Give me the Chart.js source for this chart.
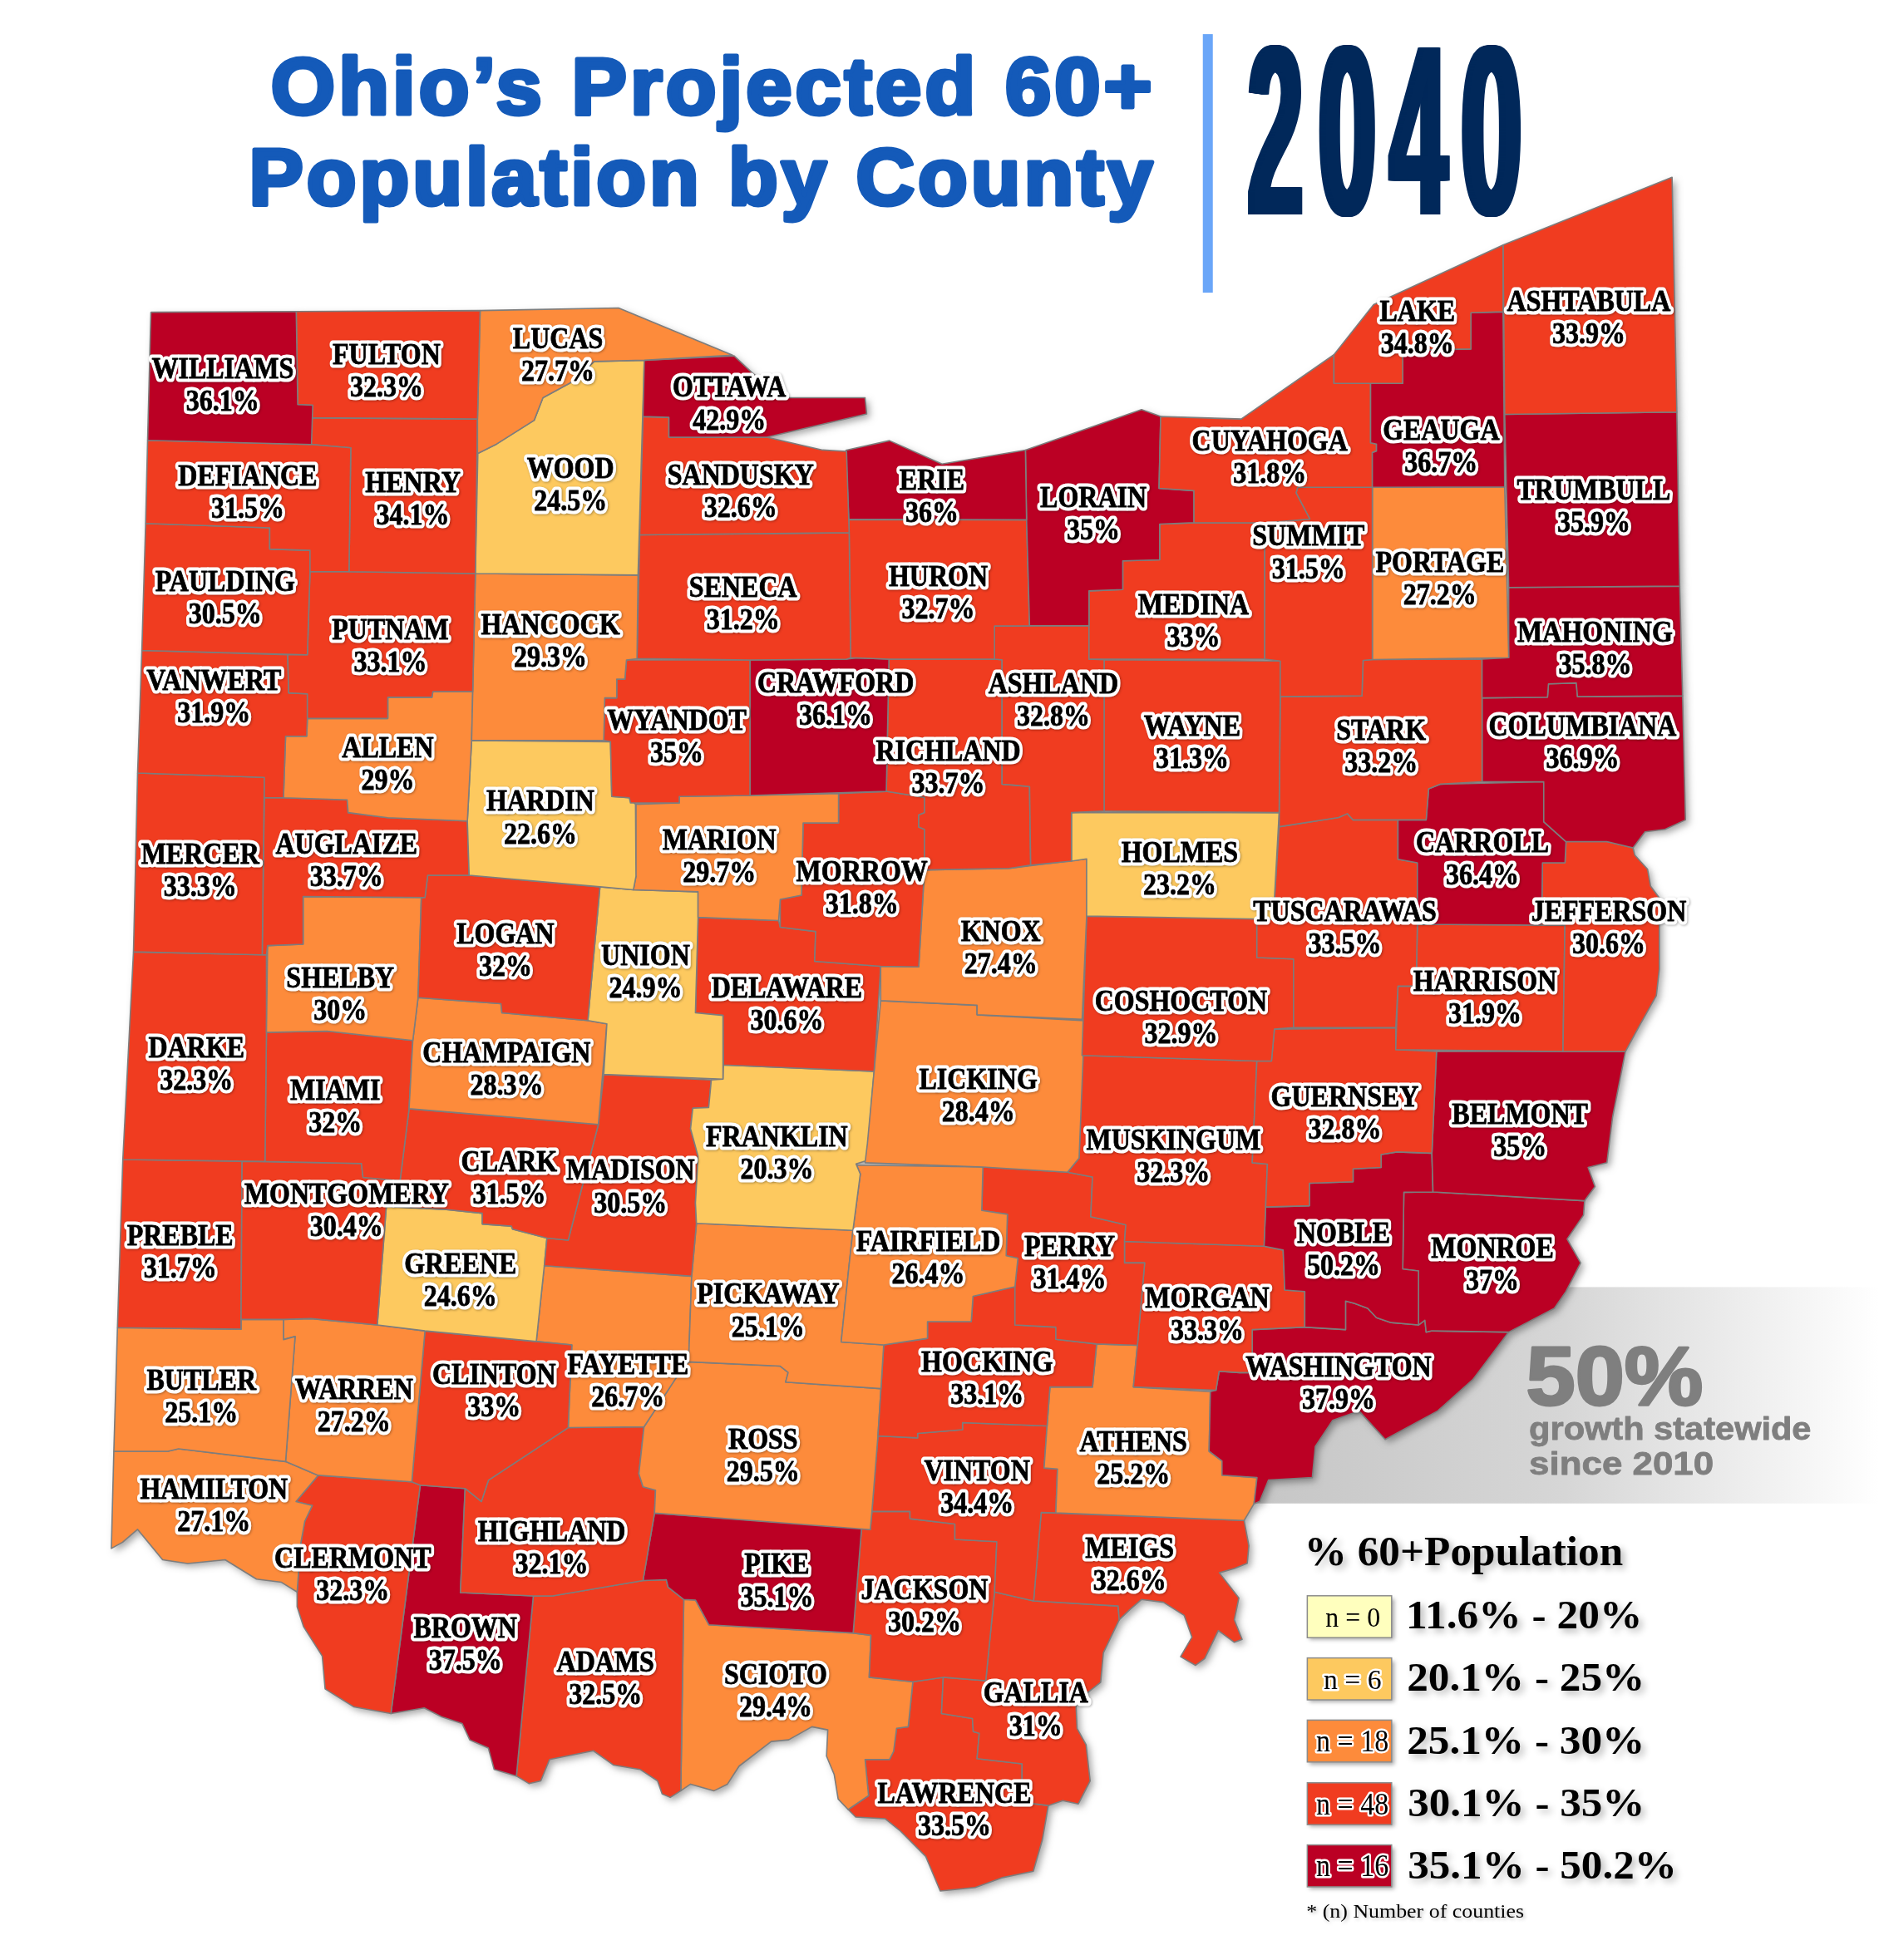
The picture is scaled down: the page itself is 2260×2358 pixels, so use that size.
<!DOCTYPE html>
<html>
<head>
<meta charset="utf-8">
<title>Ohio's Projected 60+ Population by County</title>
<script src="https://cdn.jsdelivr.net/npm/chart.js@4"></script>
<style>
  html, body { margin: 0; padding: 0; background: #fff; }
  canvas { display: block; }
</style>
</head>
<body>
<canvas id="map" width="2260" height="2358"></canvas>
<script>
// ── Data ────────────────────────────────────────────────────────────────────
// All four county arrays run in the same order.
const countyNames = [
  'WILLIAMS','FULTON','LUCAS','OTTAWA','LAKE','ASHTABULA','GEAUGA','CUYAHOGA','TRUMBULL','DEFIANCE','HENRY',
  'WOOD','SANDUSKY','ERIE','LORAIN','SUMMIT','PORTAGE','PAULDING','PUTNAM','HANCOCK','SENECA','HURON',
  'MEDINA','MAHONING','VANWERT','ALLEN','WYANDOT','CRAWFORD','ASHLAND','RICHLAND','WAYNE','STARK','COLUMBIANA',
  'HARDIN','MARION','MERCER','AUGLAIZE','MORROW','HOLMES','CARROLL','TUSCARAWAS','JEFFERSON','LOGAN','UNION',
  'KNOX','SHELBY','DELAWARE','COSHOCTON','HARRISON','DARKE','CHAMPAIGN','LICKING','MIAMI','GUERNSEY','BELMONT',
  'CLARK','FRANKLIN','MUSKINGUM','MADISON','MONTGOMERY','NOBLE','MONROE','PREBLE','GREENE','FAIRFIELD','PERRY',
  'PICKAWAY','MORGAN','BUTLER','WARREN','CLINTON','FAYETTE','HOCKING','WASHINGTON','ROSS','ATHENS','VINTON',
  'HAMILTON','CLERMONT','HIGHLAND','PIKE','JACKSON','MEIGS','BROWN','ADAMS','SCIOTO','GALLIA','LAWRENCE'
];
const countyValues = [
  36.1,32.3,27.7,42.9,34.8,33.9,36.7,31.8,35.9,31.5,34.1,
  24.5,32.6,36,35,31.5,27.2,30.5,33.1,29.3,31.2,32.7,
  33,35.8,31.9,29,35,36.1,32.8,33.7,31.3,33.2,36.9,
  22.6,29.7,33.3,33.7,31.8,23.2,36.4,33.5,30.6,32,24.9,
  27.4,30,30.6,32.9,31.9,32.3,28.3,28.4,32,32.8,35,
  31.5,20.3,32.3,30.5,30.4,50.2,37,31.7,24.6,26.4,31.4,
  25.1,33.3,25.1,27.2,33,26.7,33.1,37.9,29.5,25.2,34.4,
  27.1,32.3,32.1,35.1,30.2,32.6,37.5,32.5,29.4,31,33.5
];
// Printed as 35% but mapped in the top class, so their real value rounds down to 35.
const roundedDown = ['LORAIN', 'BELMONT'];
// Where each county's name sits, in map units.
const labelSpots = [
  [178,294],[309,283],[446,270],[583,309],[1133,248],[1270,240],[1152,343],[1015,352],[1274,391],[198,380],[330,385],
  [456,374],[592,379],[745,383],[874,397],[1046,428],[1151,449],[180,464],[312,503],[440,499],[594,469],[750,460],
  [954,483],[1275,505],[171,543],[310,597],[541,575],[668,545],[842,546],[758,600],[953,580],[1104,583],[1265,580],
  [432,640],[575,671],[160,682],[277,674],[689,696],[943,681],[1185,673],[1075,728],[1286,728],[404,746],[516,763],
  [800,744],[272,781],[629,789],[944,800],[1187,784],[157,837],[405,841],[782,862],[268,871],[1075,876],[1215,890],
  [407,928],[621,908],[938,911],[504,935],[277,954],[1074,985],[1193,997],[144,987],[368,1010],[742,992],[855,996],
  [614,1034],[965,1037],[161,1103],[283,1110],[395,1098],[502,1090],[789,1088],[1070,1092],[610,1150],[906,1152],[781,1175],
  [171,1190],[282,1245],[441,1224],[621,1250],[739,1270],[903,1237],[372,1301],[484,1328],[620,1338],[828,1353],[763,1433]
];
// County outlines in map units (x right, y down).
const countyShapes = [
  [[120.6,249.6],[236.8,249],[238,323.5],[250,324],[249,355.4],[118,352]], // Williams
  [[236.8,249],[383.8,248.3],[381.7,335],[248.6,334],[250,324],[238,323.5]], // Fulton
  [[383.8,248.3],[494.4,246.2],[585.5,284],[515,288],[475,289],[456,306],[434,318],[427,336],[397,355],[382,362.5],[381.7,335]], // Lucas
  [[515,288],[586.8,284.5],[601,297.8],[625,318],[691.5,318],[692.8,331],[613,349.6],[534.7,349.6],[534.7,333.7],[514,333]], // Ottawa
  [[1066.3,283.6],[1098,243.6],[1201.5,195.9],[1201.5,249.3],[1175.8,250],[1175.8,279],[1121.3,280],[1121.3,306.5],[1066.3,306.5]], // Lake
  [[1201.5,195.9],[1336.6,141.7],[1340.4,329.4],[1202.8,331.3]], // Ashtabula
  [[1095.6,306.5],[1121.3,306.5],[1121.3,280],[1175.8,279],[1175.8,250],[1201.5,249.3],[1202.8,389.3],[1097,389.6],[1097,361.8],[1100.3,360.6],[1100.3,355],[1095.6,354]], // Geauga
  [[927.8,333],[992.2,335],[1066.3,283.6],[1066.3,306.5],[1095.6,306.5],[1095.6,354],[1100.3,355],[1100.3,360.6],[1097,361.8],[1097,389.6],[1037.4,389.6],[1036,394],[1047,415],[1011,418],[954.4,417.9],[954.4,392.3],[926.5,390.4]], // Cuyahoga
  [[1202.8,331.3],[1340.4,329.4],[1342.7,468.6],[1206,469.7]], // Trumbull
  [[118,352],[249,355.4],[280.4,358],[279,457],[247.8,457],[247.8,440],[215.6,439],[215.6,422],[116.4,418.5]], // Defiance
  [[248.6,334],[381.7,335],[380,458.5],[279,457],[280.4,358],[249,355.4]], // Henry
  [[475,289],[515,288],[510,459.8],[380,458.5],[382,362.5],[397,355],[427,336],[434,318],[456,306]], // Wood
  [[514,333],[534.7,333.7],[534.7,349.6],[613,349.6],[657.6,359.8],[676.7,360.8],[678.8,425.9],[511.4,427.6]], // Sandusky
  [[676,360],[711,352.3],[753,371],[819.7,359.9],[820.6,415.6],[678.5,415]], // Erie
  [[819.7,359.9],[912.5,327.5],[927.8,333],[926.5,390.4],[954.4,392.3],[954.4,417.9],[927,419],[927,447.6],[897.5,448.4],[897.5,471.3],[870.5,472.4],[870.5,500.2],[823,500.2],[820.6,415.6]], // Lorain
  [[1037.4,389.6],[1097,389.6],[1097,527.3],[1089.6,528],[1088.7,556.3],[1023.4,557],[1023.4,528.5],[1011,527],[1011,418],[1047,415],[1036,394]], // Summit
  [[1097,389.6],[1202.8,389.3],[1206,525.8],[1097,527.3]], // Portage
  [[116.4,418.5],[215.6,422],[215.6,439],[247.8,440],[247.8,457],[245.7,523.5],[113.4,520]], // Paulding
  [[247.8,457],[279,457],[380,458.5],[377.9,553],[346,553],[345.3,557.5],[310,557.5],[310,574.4],[245.7,574.4],[245.7,554.7],[230.8,554],[230,523.5],[245.7,523.5]], // Putnam
  [[380,458.5],[510,459.8],[509.2,526.6],[500.8,527.6],[499.5,543],[493,543],[493,558],[483.4,558],[482.6,592],[377,592],[377.9,553]], // Hancock
  [[511.4,427.6],[678.8,425.9],[680,526],[676.7,527],[599.5,527.6],[509.2,526.6]], // Seneca
  [[678.6,415.5],[820.6,415.6],[823,500.2],[795,500.5],[795,527],[710.6,527],[685,526],[680,526]], // Huron
  [[927,419],[954.4,417.9],[1011,418],[1011,527],[870.5,527],[870.5,472.4],[897.5,471.3],[897.5,448.4],[927,447.6]], // Medina
  [[1206,469.7],[1342.7,468.6],[1345,556.3],[1261,557],[1260,546],[1237.8,546.8],[1237,557.4],[1184.7,558],[1184.7,527],[1206,525.8]], // Mahoning
  [[113.4,520],[230,523.5],[230.8,554],[245.7,554.7],[245.7,574.4],[245.2,588.6],[228.3,588.6],[226.6,637.8],[211.3,637.8],[211.3,621.5],[110,618]], // Van Wert
  [[245.7,574.4],[310,574.4],[310,557.5],[345.3,557.5],[346,553],[377.9,553],[377,592],[373.6,656.4],[310,653.7],[278.3,649.7],[277.5,639.5],[226.6,637.8],[228.3,588.6],[245.2,588.6]], // Allen
  [[500.8,527.6],[599.5,527.6],[599.5,636],[543,636.8],[543,642],[504,642],[503,637.8],[489,636.8],[488,593],[482.6,592],[483.4,558],[493,558],[493,543],[499.5,543]], // Wyandot
  [[599.5,527.6],[676.7,527],[685,526],[710.6,527],[708.5,632.7],[599.5,636]], // Crawford
  [[795,527],[795,500.5],[870.5,500.2],[870.5,527],[882.6,527.5],[882.6,648.5],[856.5,649.7],[856.5,688.5],[823.9,691.7],[823,628.8],[809,627.6],[801,627],[801,527.5]], // Ashland
  [[710.6,527],[795,527],[801,527.5],[801,627],[823,628.8],[823.9,691.7],[806.7,694.3],[739,695.5],[739,663],[734.4,661.2],[734.4,651.6],[739,649.7],[739,637.5],[708.5,632.7]], // Richland
  [[882.6,527.5],[1023.4,528.5],[1023.4,557],[1022.5,649.7],[882.6,648.5]], // Wayne
  [[1023.4,557],[1088.7,556.3],[1089.6,528],[1097,527.3],[1184.7,527],[1184.7,625],[1151.6,626.9],[1142,630.7],[1140,655.5],[1117.5,655.5],[1081.6,655.5],[1077,650.5],[1070,653.6],[1022.5,661]], // Stark
  [[1184.7,558],[1237,557.4],[1237.8,546.8],[1260,546],[1261,557],[1345,556.3],[1347.3,655.5],[1331,663],[1315,665],[1305.4,677.8],[1284.5,672.9],[1251.8,672.9],[1234,657],[1234,625],[1184.7,625]], // Columbiana
  [[377,592],[488,593],[489,636.8],[503,637.8],[508,643],[508.4,700.5],[506.3,711.4],[479.6,709],[375,699.8],[373.6,656.4]], // Hardin
  [[508,643],[543,642],[543,636.8],[599.5,636],[670.3,634.4],[670.3,658],[642,658],[640.7,715.7],[623.7,719],[622.4,736],[558,733.4],[558,713],[506.3,711.4],[508.4,700.5]], // Marion
  [[110,618],[211.3,621.5],[209.6,763.4],[106.7,761]], // Mercer
  [[211.3,637.8],[226.6,637.8],[277.5,639.5],[278.3,649.7],[310,653.7],[373.6,656.4],[375,699.8],[341.9,699.8],[339.7,717.5],[242.3,716.8],[242.3,754.9],[213.9,756],[213,763.4],[209.6,763.4]], // Auglaize
  [[670.3,634.4],[708.5,632.7],[739,637.5],[739,649.7],[734.4,651.6],[734.4,661.2],[739,663],[739,695.5],[734.4,773],[704,772.5],[651.2,768.5],[652,744.7],[623.7,741.3],[623.7,719],[640.7,715.7],[642,658],[670.3,658]], // Morrow
  [[856.5,649.7],[1022.5,649.7],[1017.8,735],[868.6,732.4],[868.6,686.6],[856.5,688.5]], // Holmes
  [[1142,630.7],[1151.6,626.9],[1234,625],[1234,657],[1251.8,672.9],[1251,689.8],[1233,689.8],[1232.3,739.6],[1133,739],[1133,689.8],[1117.5,687],[1117.5,655.5],[1140,655.5]], // Carroll
  [[1022.5,661],[1070,653.6],[1077,650.5],[1081.6,655.5],[1117.5,655.5],[1117.5,687],[1133,689.8],[1133,739],[1132,788.4],[1117.5,788.4],[1115.7,821.6],[1034,821.6],[1034,766.7],[1004.7,765.6],[1004.7,734],[1017.8,735]], // Tuscarawas
  [[1233,689.8],[1251,689.8],[1251.8,672.9],[1284.5,672.9],[1305.4,677.8],[1306.8,683.6],[1317,695],[1319.4,708.4],[1326.4,717.9],[1326.4,775],[1324,796],[1310,821],[1299.3,840.7],[1249.4,840.7],[1250.9,739.6],[1232.3,739.6]], // Jefferson
  [[341.9,699.8],[375,699.8],[479.6,709],[469.9,815.9],[401.2,809.8],[400.4,802.4],[334.2,797.6],[336.8,717.6],[339.7,717.5]], // Logan
  [[479.6,709],[506.3,711.4],[558,713],[558,733.4],[555.9,809.8],[577.9,811.8],[577.9,862.7],[482.6,859],[485.1,818.6],[469.9,815.9]], // Union
  [[739,695.5],[806.7,694.3],[868.6,686.6],[868.6,732.4],[865,815],[781,811.3],[781,803.7],[704,800],[704,772.5],[734.4,773]], // Knox
  [[242.3,716.8],[339.7,717.5],[336.8,717.6],[334.2,797.6],[330,831.8],[261.4,824.4],[213,825.4],[213.9,756],[242.3,754.9]], // Shelby
  [[558,733.4],[622.4,736],[623.7,741.3],[652,744.7],[651.2,768.5],[704,772.5],[698.7,856.6],[578.3,851.5],[577.9,811.8],[555.9,809.8]], // Delaware
  [[868.6,732.4],[1004.7,734],[1004.7,765.6],[1034,766.7],[1034,821.6],[1018.7,822.8],[1016.4,848.3],[1004.7,848.3],[864.9,843.8]], // Coshocton
  [[1133,739],[1232.3,739.6],[1250.9,739.6],[1249.4,840.7],[1115.7,839.2],[1117.5,788.4],[1132,788.4]], // Harrison
  [[106.7,761],[213,763.4],[213,825.4],[211.8,928.5],[98.2,927]], // Darke
  [[334.2,797.6],[400.4,802.4],[401.2,809.8],[469.9,815.9],[485.1,818.6],[478.3,899],[327,886.4],[330,831.8]], // Champaign
  [[704,800],[781,803.7],[781,811.3],[867,816],[862.6,925.8],[853.3,937.2],[785.7,933],[691.5,929.6],[693.4,914],[698.7,856.6]], // Licking
  [[213,825.4],[261.4,824.4],[330,831.8],[327,886.4],[319.8,944],[290.2,941.3],[288.9,930.2],[211.8,928.5]], // Miami
  [[1018.7,822.8],[1115.7,821.6],[1115.7,839.2],[1148.3,840.7],[1144.6,922],[1116.6,921],[1104,923],[1104,933.4],[1081.6,934.5],[1081.6,944.8],[1046.7,946],[1046.7,964],[1011.7,965],[1013.1,930.7],[1001,929.6],[1004.7,848.3],[1016.4,848.3]], // Guernsey
  [[1148.3,840.7],[1299.3,840.7],[1289,893.3],[1284.5,929.6],[1269.5,933.4],[1275,948.6],[1266.7,960],[1145.5,953],[1144.6,922]], // Belmont
  [[327,886.4],[478.3,899],[454.2,991.5],[437.2,989.8],[409.7,982.7],[408.8,980.3],[385.5,978.6],[385.5,970],[353.7,966.8],[316,965],[319.8,944]], // Clark
  [[578.3,851.5],[698.7,856.6],[692.8,927.8],[684.3,930.5],[687.7,938.6],[681.8,983.7],[556.7,978],[555.9,961.7],[558,924.4],[552,902.4],[553.8,886],[566.5,885.4],[568.6,863.4],[577.9,862.7]], // Franklin
  [[864.9,843.8],[1004.7,848.3],[1001,929.6],[1013.1,930.7],[1011.7,965],[1010.4,996.3],[898.9,992.5],[899.9,979.2],[871.9,972.7],[873.3,941],[853.3,937.2],[862.6,925.8]], // Muskingum
  [[482.6,859],[568.6,863.4],[566.5,885.4],[553.8,886],[552,902.4],[558,924.4],[555.9,961.7],[556.7,978],[552.9,1020.3],[435.1,1011.9],[437.2,989.8],[454.2,991.5],[478.3,899]], // Madison
  [[193.5,928.5],[288.9,930.2],[290.2,941.3],[319.8,944],[316,965],[308.8,964.4],[301.6,1059.3],[248.6,1054.2],[226.6,1054.9],[192.7,1054.9]], // Montgomery
  [[1011.7,965],[1046.7,964],[1046.7,946],[1081.6,944.8],[1081.6,934.5],[1104,933.4],[1104,923],[1116.6,921],[1144.6,922],[1145.5,953],[1122.2,953.2],[1121.3,1014.6],[1133.9,1016.1],[1133.9,1059.3],[1112,1057.4],[1100.3,1053.5],[1093.3,1046],[1082.6,1042],[1075.6,1040.2],[1075.6,1063],[1043,1061],[1043,1032.5],[1027,1031.4],[1025.7,999.4],[1010.4,996.3]], // Noble
  [[1122.2,953.2],[1145.5,953],[1266.7,960],[1265.8,971.5],[1252.7,990.6],[1263.5,1009.7],[1251.8,1032.5],[1242.5,1046],[1206,1065],[1144.6,1064],[1140,1065],[1139,1055.5],[1133.9,1059.3],[1133.9,1016.1],[1121.3,1014.6]], // Monroe
  [[98.2,927],[193.5,928.5],[192.7,1054.9],[192.7,1062.7],[93.9,1061.4]], // Preble
  [[308.8,964.4],[353.7,966.8],[385.5,970],[385.5,978.6],[408.8,980.3],[409.7,982.7],[437.2,989.8],[435.1,1011.9],[428.7,1072.5],[339.7,1064],[301.6,1059.3]], // Greene
  [[685.5,931.5],[785.7,933],[784.8,967.7],[805.3,970.8],[804.3,1004],[813.7,1005.9],[811.3,1028.7],[777.8,1036.4],[776.4,1056.6],[741.4,1056.6],[741.4,1070],[706.4,1075.2],[672.4,1072.9],[678.8,1010.8],[681.8,983.7],[687.7,938.6],[684.3,930.5]], // Fairfield
  [[785.7,933],[853.3,937.2],[873.3,941],[871.9,972.7],[899.9,979.2],[898.9,992.5],[898.9,1009.7],[915,1009.7],[909.2,1075.6],[876.6,1074.5],[844,1070.7],[844,1061],[811.3,1059.3],[811.3,1028.7],[813.7,1005.9],[804.3,1004],[805.3,970.8],[784.8,967.7]], // Perry
  [[556.7,978],[681.8,983.7],[678.8,1010.8],[672.4,1072.9],[706.4,1075.2],[704.2,1110.2],[628,1105],[630,1097.3],[623.7,1092.2],[550.4,1088.8],[552.9,1020.3]], // Pickaway
  [[898.9,992.5],[1010.4,996.3],[1025.7,999.4],[1027,1031.4],[1043,1032.5],[1043,1061],[1001,1063],[1001,1097.4],[990.8,1097.4],[974.5,1096.3],[972,1111.5],[906,1108.9],[909.2,1075.6],[915,1009.7],[898.9,1009.7]], // Morgan
  [[93.9,1061.4],[192.7,1062.7],[192.7,1054.9],[226.6,1054.9],[226.6,1071],[235.9,1068.5],[228.3,1168.5],[142.7,1158.3],[134.2,1160.3],[91,1160.3]], // Butler
  [[226.6,1054.9],[248.6,1054.2],[301.6,1059.3],[339.7,1064],[329.2,1184.7],[254.3,1179.5],[228.3,1168.5],[235.9,1068.5],[226.6,1071]], // Warren
  [[339.7,1064],[428.7,1072.5],[457.1,1075.2],[454.2,1141.4],[390.4,1183.5],[384.8,1200.5],[371.8,1190],[335.9,1187.4],[329.2,1184.7]], // Clinton
  [[435.1,1011.9],[552.9,1020.3],[550.4,1088.8],[541,1100.7],[514.8,1140.7],[454.2,1141.4],[457.1,1075.2],[428.7,1072.5]], // Fayette
  [[706.4,1075.2],[741.4,1070],[741.4,1056.6],[776.4,1056.6],[777.8,1036.4],[811.3,1028.7],[811.3,1059.3],[844,1061],[844,1070.7],[876.6,1074.5],[873.3,1108.9],[839.3,1108.9],[837,1140],[769.4,1137.4],[769.4,1143],[733.5,1146],[733.5,1149.6],[701.8,1148],[704.2,1110.2]], // Hocking
  [[1001,1063],[1043,1061],[1075.6,1063],[1075.6,1040.2],[1082.6,1042],[1093.3,1046],[1100.3,1053.5],[1112,1057.4],[1133.9,1059.3],[1139,1055.5],[1140,1065],[1144.6,1064],[1206,1065],[1177.2,1103.1],[1149.3,1128],[1107.3,1150.8],[1086.3,1128],[1065.3,1135.5],[1051.4,1156.5],[1049,1181.3],[1014,1183.2],[1007,1200.4],[1002.4,1202.3],[1004.8,1181.3],[976.8,1179.4],[976.8,1168],[966.5,1160.3],[967.5,1112.6],[972,1111.5],[974.5,1096.3],[990.8,1097.4],[1001,1097.4]], // Washington
  [[550.4,1088.8],[623.7,1092.2],[630,1097.3],[628,1105],[704.2,1110.2],[701.8,1148],[697,1208.4],[695.7,1222.9],[523.2,1209.7],[524,1191.3],[514,1188.7],[510.7,1178.2],[514.8,1140.7],[541,1100.7]], // Ross
  [[876.6,1074.5],[909.2,1075.6],[906,1108.9],[967.5,1112.6],[966.5,1160.3],[976.8,1168],[976.8,1179.4],[1004.8,1181.3],[1002.4,1202.3],[994.5,1215.6],[844,1209.5],[845.3,1174.4],[834.6,1173.7],[837,1140],[839.3,1108.9],[873.3,1108.9]], // Athens
  [[701.8,1148],[733.5,1149.6],[733.5,1146],[769.4,1143],[769.4,1137.4],[837,1140],[834.6,1173.7],[845.3,1174.4],[844,1209.5],[832.3,1209.2],[826.2,1279.9],[795,1272.8],[796.8,1232.6],[763.3,1230.7],[763.3,1218.4],[727.4,1214.2],[727.4,1208.4],[697,1208.4]], // Vinton
  [[91,1160.3],[134.2,1160.3],[142.7,1158.3],[228.3,1168.5],[254.3,1179.5],[236.6,1200.5],[249.6,1203.7],[243.6,1216.3],[240.3,1234.7],[237.5,1272.8],[225,1265],[205,1262.5],[180,1247],[150,1250],[130,1247],[110,1222.7],[98,1233],[89,1238]], // Hamilton
  [[254.3,1179.5],[329.2,1184.7],[335.9,1187.4],[312.5,1370],[283,1364.7],[259.9,1350.3],[257.6,1324],[242.6,1300.4],[237.5,1284.6],[237.5,1272.8],[240.3,1234.7],[243.6,1216.3],[249.6,1203.7],[236.6,1200.5]], // Clermont
  [[454.2,1141.4],[514.8,1140.7],[510.7,1178.2],[514,1188.7],[524,1191.3],[523.2,1209.7],[514,1263.6],[441.7,1275.9],[426.3,1275.9],[368,1273.3],[371.8,1190],[384.8,1200.5],[390.4,1183.5]], // Highland
  [[523.2,1209.7],[688.7,1221.8],[682,1305.6],[566.6,1299],[556,1279.3],[546.6,1278.8],[534,1268.8],[532.6,1263],[514,1263.6]], // Pike
  [[697,1208.4],[727.4,1208.4],[727.4,1214.2],[763.3,1218.4],[763.3,1230.7],[796.8,1232.6],[795,1272.8],[788,1343.7],[754,1341],[729.7,1344.5],[694.8,1341],[696.2,1307.4],[682,1305.6],[688.7,1221.8],[695.7,1222.9]], // Jackson
  [[832.3,1209.2],[994.5,1215.6],[998.3,1235.9],[997,1249.8],[986.7,1254],[974.7,1257.4],[990.3,1277.6],[986.7,1295],[992.9,1310.6],[986.7,1313],[973.9,1303.6],[963,1326],[955.7,1331.4],[943.7,1324.5],[952.8,1308.9],[946.6,1291.5],[930,1281],[912.4,1278.8],[903,1287],[894.7,1295],[893.8,1284],[826.2,1279.9]], // Meigs
  [[335.9,1187.4],[371.8,1190],[368,1273.3],[426.3,1275.9],[412.8,1419.9],[395,1414.6],[390.4,1397.6],[375.5,1391],[369.4,1377.9],[353.1,1372.6],[339.1,1365.5],[312.5,1370]], // Brown
  [[426.3,1275.9],[441.7,1275.9],[514,1263.6],[532.6,1263],[534,1268.8],[546.6,1278.8],[544.2,1431.7],[535.8,1437],[529.3,1434.3],[525.6,1423.8],[511.6,1414.6],[490.6,1411.2],[474.3,1399.7],[439.3,1406.7],[432.3,1423.8],[423,1426],[412.8,1419.9]], // Adams
  [[546.6,1278.8],[556,1279.3],[566.6,1299],[682,1305.6],[696.2,1307.4],[694.8,1341],[729.7,1344.5],[726,1380.5],[716.7,1381.8],[714.3,1400.2],[711,1406.7],[691.5,1406.7],[694.3,1435.6],[678,1446.7],[670,1438.3],[666.8,1418.6],[660.7,1404],[661.7,1383],[649,1380.5],[630.4,1391],[616.5,1392.3],[590.8,1412],[581.5,1426.4],[570.8,1431.7],[552,1426.4],[544.2,1431.7]], // Scioto
  [[795,1272.8],[826.2,1279.9],[893.8,1284],[894.7,1295],[882,1321.4],[879.8,1345],[860,1360.8],[861,1381.8],[868.2,1395],[871.4,1423.8],[862,1442.2],[849.5,1439.6],[838,1443.5],[817,1441],[817,1410.2],[781,1406],[782.8,1385.7],[778,1384.4],[777.3,1373.9],[752.6,1370],[754,1341],[788,1343.7]], // Gallia
  [[691.5,1406.7],[711,1406.7],[714.3,1400.2],[716.7,1381.8],[726,1380.5],[729.7,1344.5],[754,1341],[752.6,1370],[777.3,1373.9],[778,1384.4],[782.8,1385.7],[781,1406],[817,1410.2],[817,1441],[838,1443.5],[833.2,1471],[826,1496],[800.6,1501.3],[779.6,1509],[751.6,1511.8],[740,1484.2],[719,1463.2],[707.4,1454],[684,1452.7],[678,1446.7],[694.3,1435.6]] // Lawrence
];

// Colour classes: a county takes the first class whose upper limit it fits under.
const binLimits  = [20, 25, 30, 35, 50.2];
const binColors  = ['#ffffbe', '#fdc95f', '#fd8b3b', '#f03c20', '#bb0024'];
const binCounts  = ['n = 0', 'n = 6', 'n = 18', 'n = 48', 'n = 16'];
const binRanges  = ['11.6% - 20%', '20.1% - 25%', '25.1% - 30%', '30.1% - 35%', '35.1% - 50.2%'];

// ── Helpers ─────────────────────────────────────────────────────────────────
const SERIF = '"Liberation Serif", serif';
const SANS  = '"Liberation Sans", Arial, sans-serif';

function colorFor(name, v) {
  if (roundedDown.includes(name)) return binColors[binColors.length - 1];
  const i = binLimits.findIndex(lim => v <= lim);
  return binColors[i < 0 ? binColors.length - 1 : i];
}

// Text squeezed or stretched so its ink runs from left to right (map units).
function fitText(ctx, scales, text, font, left, right, base, paint, spacing) {
  const l = scales.x.getPixelForValue(left);
  const r = scales.x.getPixelForValue(right);
  const b = scales.y.getPixelForValue(base);
  ctx.save();
  ctx.font = font;
  ctx.textAlign = 'left';
  ctx.textBaseline = 'alphabetic';
  ctx.letterSpacing = spacing || '0px';
  const m = ctx.measureText(text);
  const ink = m.actualBoundingBoxRight + m.actualBoundingBoxLeft;
  const sx = (r - l) / ink;
  ctx.translate(l + m.actualBoundingBoxLeft * sx, b);
  ctx.scale(sx, 1);
  paint(text);
  ctx.restore();
}

function softShadow(ctx, alpha, off, blur) {
  ctx.shadowColor = `rgba(0,0,0,${alpha})`;
  ctx.shadowOffsetX = off;
  ctx.shadowOffsetY = off;
  ctx.shadowBlur = blur;
}

// Gray growth banner and the map's drop shadow, both under the counties.
const underMap = {
  id: 'underMap',
  beforeDatasetsDraw(chart) {
    const { ctx, scales: { x, y } } = chart;
    ctx.save();
    const grad = ctx.createLinearGradient(x.getPixelForValue(1000), 0, x.getPixelForValue(1502), 0);
    grad.addColorStop(0, '#c6c6c6');
    grad.addColorStop(0.5, '#d6d6d6');
    grad.addColorStop(1, '#ffffff');
    ctx.fillStyle = grad;
    ctx.fillRect(x.getPixelForValue(1000), y.getPixelForValue(1029),
                 x.getPixelForValue(1502) - x.getPixelForValue(1000), y.getPixelForValue(1202) - y.getPixelForValue(1029));
    softShadow(ctx, 0.35, 4, 8);
    ctx.fillStyle = '#888';
    countyShapes.forEach(shape => {
      ctx.beginPath();
      shape.forEach(([px, py], i) => {
        const X = x.getPixelForValue(px), Y = y.getPixelForValue(py);
        if (i) ctx.lineTo(X, Y); else ctx.moveTo(X, Y);
      });
      ctx.closePath();
      ctx.fill();
    });
    ctx.restore();
  }
};

// County labels: black serif with a white halo, a little taller than the font.
const countyLabels = {
  id: 'countyLabels',
  afterDatasetsDraw(chart) {
    const { ctx, scales: { x, y } } = chart;
    ctx.save();
    ctx.font = `bold 32px ${SERIF}`;
    ctx.textAlign = 'center';
    ctx.textBaseline = 'middle';
    ctx.lineJoin = 'round';
    const put = (text, cx, cy) => {
      ctx.save();
      ctx.translate(x.getPixelForValue(cx), y.getPixelForValue(cy));
      ctx.scale(1, 1.14);
      ctx.save();
      softShadow(ctx, 0.3, 1, 3);
      ctx.strokeStyle = '#fff';
      ctx.lineWidth = 8;
      ctx.strokeText(text, 0, 0);
      ctx.restore();
      ctx.fillStyle = '#000';
      ctx.strokeStyle = '#000';
      ctx.lineWidth = 0.7;
      ctx.fillText(text, 0, 0);
      ctx.strokeText(text, 0, 0);
      ctx.restore();
    };
    countyNames.forEach((name, i) => {
      const [cx, cy] = labelSpots[i];
      put(name, cx, cy + 2);
      put(countyValues[i] + '%', cx, cy + 28);
    });
    ctx.restore();
  }
};

// Title block, growth callout and legend.
const pageText = {
  id: 'pageText',
  afterDatasetsDraw(chart) {
    const { ctx, scales } = chart;
    const { x, y } = scales;
    ctx.save();

    // Title
    const heavy = color => t => {
      ctx.fillStyle = color; ctx.strokeStyle = color; ctx.lineWidth = 5; ctx.lineJoin = 'round';
      ctx.fillText(t, 0, 0); ctx.strokeText(t, 0, 0);
    };
    fitText(ctx, scales, 'Ohio’s Projected 60+', `bold 97px ${SANS}`, 218.6, 918.4, 90.8, heavy('#145ab9'), '4px');
    fitText(ctx, scales, 'Population by County', `bold 97px ${SANS}`, 203, 921.4, 163.5, heavy('#145ab9'), '4px');

    ctx.fillStyle = '#6aa6f8';
    ctx.fillRect(x.getPixelForValue(961.5), y.getPixelForValue(27.3), 12, y.getPixelForValue(234) - y.getPixelForValue(27.3));

    // Each digit of the year gets its own narrow slot.
    const yearDigits = ['2', '0', '4', '0'];
    const yearLeft  = [1000, 1056.5, 1111, 1170.5];
    const yearRight = [1039.5, 1096.5, 1157.2, 1213];
    yearDigits.forEach((d, i) => {
      fitText(ctx, scales, d, `bold 292px ${SANS}`, yearLeft[i], yearRight[i], 171.5, t => {
        ctx.fillStyle = '#01285a';
        const sx = ctx.getTransform().a;
        for (let dx = -4; dx <= 4; dx += 1) ctx.fillText(t, dx / sx, 0);
      });
    });

    // Growth callout
    const gray = w => t => {
      ctx.fillStyle = '#7f7f7f'; ctx.strokeStyle = '#7f7f7f'; ctx.lineWidth = w; ctx.lineJoin = 'round';
      ctx.fillText(t, 0, 0); if (w) ctx.strokeText(t, 0, 0);
    };
    fitText(ctx, scales, '50%', `bold 100px ${SANS}`, 1222, 1360, 1123, gray(3));
    fitText(ctx, scales, 'growth statewide', `bold 38px ${SANS}`, 1223, 1447, 1150.7, gray(0.8));
    fitText(ctx, scales, 'since 2010', `bold 38px ${SANS}`, 1223, 1369, 1179, gray(0.8));

    // Legend
    const shaded = (alpha, off, blur) => t => {
      softShadow(ctx, alpha, off, blur);
      ctx.fillStyle = '#000';
      ctx.fillText(t, 0, 0);
    };
    fitText(ctx, scales, '% 60+Population', `bold 50px ${SERIF}`, 1046, 1297.5, 1251.5, shaded(0.3, 4, 8));

    const rangeRight = [1310, 1312, 1312, 1312, 1337.6];
    const rowBase = [1302, 1351.6, 1402, 1452, 1501.7];
    const boxTop = [1275.8, 1325.5, 1375.2, 1425.3, 1475];
    const countLeft = [1059.6, 1058, 1052, 1052, 1052];
    const countRight = [1103, 1104, 1109.5, 1109.5, 1109.5];
    const countSize = [33, 33, 38, 38, 38];
    binColors.forEach((color, i) => {
      const bx = x.getPixelForValue(1045), by = y.getPixelForValue(boxTop[i]);
      const bw = x.getPixelForValue(1112.4) - bx, bh = y.getPixelForValue(33.5) - y.getPixelForValue(0);
      ctx.save();
      softShadow(ctx, 0.35, 3, 5);
      ctx.fillStyle = color;
      ctx.fillRect(bx, by, bw, bh);
      ctx.restore();
      ctx.strokeStyle = '#8c8c8c';
      ctx.lineWidth = 1.5;
      ctx.strokeRect(bx, by, bw, bh);

      fitText(ctx, scales, binCounts[i], `${countSize[i]}px ${SERIF}`, countLeft[i], countRight[i], rowBase[i] - 1.5, t => {
        if (i) {
          ctx.strokeStyle = '#fff'; ctx.lineWidth = 5; ctx.lineJoin = 'round';
          ctx.strokeText(t, 0, 0);
        }
        ctx.fillStyle = '#000';
        ctx.fillText(t, 0, 0);
      });
      fitText(ctx, scales, binRanges[i], `bold 49px ${SERIF}`, 1126, rangeRight[i], rowBase[i], shaded(0.3, 4, 8));
    });

    fitText(ctx, scales, '* (n) Number of counties', `24px ${SERIF}`, 1045, 1218, 1533, shaded(0.25, 2, 4));
    ctx.restore();
  }
};

// ── Chart ───────────────────────────────────────────────────────────────────
new Chart(document.getElementById('map').getContext('2d'), {
  type: 'scatter',
  data: {
    datasets: countyNames.map((name, i) => ({
      label: name,
      data: [...countyShapes[i], countyShapes[i][0]].map(([x, y]) => ({ x, y })),
      showLine: true,
      fill: 'shape',
      backgroundColor: colorFor(name, countyValues[i]),
      borderColor: '#7d7d7d',
      borderWidth: 1.6,
      borderJoinStyle: 'round',
      pointRadius: 0,
      tension: 0
    }))
  },
  options: {
    responsive: false,
    devicePixelRatio: 1,
    animation: false,
    layout: { padding: 0 },
    events: [],
    plugins: { legend: { display: false }, tooltip: { enabled: false }, title: { display: false } },
    scales: {
      x: { type: 'linear', display: false, min: 0, max: 1502 },
      y: { type: 'linear', display: false, min: 0, max: 1567, reverse: true }
    }
  },
  plugins: [underMap, countyLabels, pageText]
});
</script>
</body>
</html>
